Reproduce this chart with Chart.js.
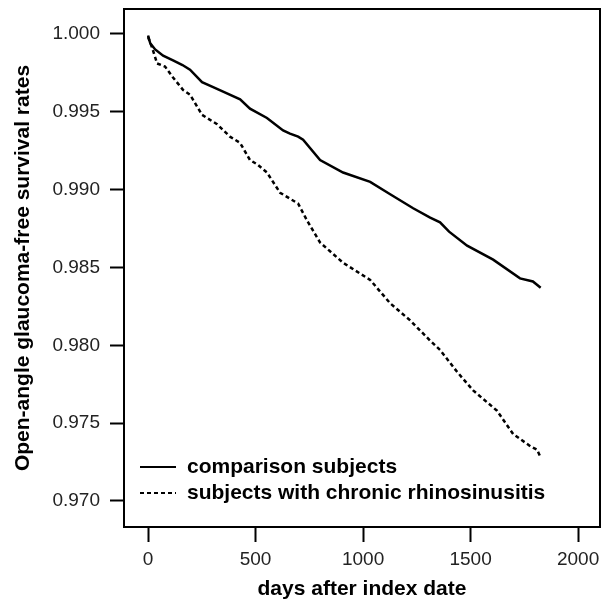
<!DOCTYPE html>
<html>
<head>
<meta charset="utf-8">
<script src="https://cdn.jsdelivr.net/npm/chart.js@4"></script>
<style>
  body { margin: 0; background: #fff; }
  canvas { display: block; }
</style>
</head>
<body>
<canvas id="myChart" width="603" height="604"></canvas>
<script>
// comparison subjects (solid)
var compDays = [0, 10, 33, 70, 116, 160, 195, 251, 300, 349, 428, 474, 553, 628, 660, 698, 721, 800, 907, 1033, 1126, 1233, 1312, 1358, 1400, 1484, 1605, 1730, 1790, 1826];
var compSurv = [0.9999, 0.9994, 0.9990, 0.9986, 0.9983, 0.9980, 0.9977, 0.9969, 0.9966, 0.9963, 0.9958, 0.9952, 0.9946, 0.9938, 0.9936, 0.9934, 0.9932, 0.9919, 0.9911, 0.9905, 0.9897, 0.9888, 0.9882, 0.9879, 0.9873, 0.9864, 0.9855, 0.9843, 0.9841, 0.9837];

// subjects with chronic rhinosinusitis (dashed)
var crsDays = [0, 19, 42, 79, 116, 163, 195, 251, 321, 381, 428, 474, 510, 553, 614, 698, 740, 800, 907, 1033, 1126, 1219, 1312, 1358, 1437, 1512, 1623, 1698, 1780, 1809, 1826];
var crsSurv = [0.9998, 0.9991, 0.9981, 0.9979, 0.9972, 0.9964, 0.9961, 0.9948, 0.9942, 0.9934, 0.9930, 0.9919, 0.9916, 0.9911, 0.9898, 0.9891, 0.9880, 0.9866, 0.9853, 0.9842, 0.9827, 0.9816, 0.9803, 0.9797, 0.9783, 0.9771, 0.9758, 0.9743, 0.9735, 0.9733, 0.9728];

var seriesNames = ['comparison subjects', 'subjects with chronic rhinosinusitis'];
var xTicks = [0, 500, 1000, 1500, 2000];
var yTicks = [0.970, 0.975, 0.980, 0.985, 0.990, 0.995, 1.000];

var FONT = "'Liberation Sans', Arial, sans-serif";

function toPoints(xs, ys) {
  return xs.map(function (x, i) { return { x: x, y: ys[i] }; });
}

// box around the plot + legend inside the plot area
var boxAndLegend = {
  id: 'boxAndLegend',
  afterDraw: function (chart) {
    var ctx = chart.ctx;
    var a = chart.chartArea;
    ctx.save();
    ctx.strokeStyle = '#000';
    ctx.lineWidth = 2;
    ctx.setLineDash([]);
    ctx.strokeRect(a.left, a.top, a.right - a.left, a.bottom - a.top);

    var rows = [a.bottom - 60, a.bottom - 34];
    ctx.font = 'bold 21px ' + FONT;
    ctx.textBaseline = 'middle';
    ctx.textAlign = 'left';
    chart.data.datasets.forEach(function (ds, i) {
      ctx.beginPath();
      ctx.lineWidth = 2;
      ctx.setLineDash(ds.borderDash || []);
      ctx.moveTo(a.left + 16, rows[i]);
      ctx.lineTo(a.left + 52, rows[i]);
      ctx.stroke();
      ctx.setLineDash([]);
      ctx.fillStyle = '#000';
      ctx.fillText(ds.label, a.left + 63, rows[i]);
    });
    ctx.restore();
  }
};

function createChart() {
  const ctx = document.getElementById('myChart');
  new Chart(ctx, {
    type: 'line',
    data: {
      datasets: [{
        label: seriesNames[0],
        data: toPoints(compDays, compSurv),
        borderColor: '#000',
        borderWidth: 2.5,
        pointRadius: 0,
        tension: 0,
        fill: false
      }, {
        label: seriesNames[1],
        data: toPoints(crsDays, crsSurv),
        borderColor: '#000',
        borderWidth: 2.5,
        borderDash: [4, 3],
        pointRadius: 0,
        tension: 0,
        fill: false
      }]
    },
    options: {
      responsive: false,
      animation: false,
      layout: { padding: { top: 9, right: 3, left: 0, bottom: 0 } },
      plugins: {
        legend: { display: false },
        tooltip: { enabled: false }
      },
      scales: {
        x: {
          type: 'linear',
          min: -112,
          max: 2102,
          afterFit: function (s) { s.height = 77; s.paddingLeft = 0; s.paddingRight = 0; },
          afterBuildTicks: function (s) { s.ticks = xTicks.map(function (v) { return { value: v }; }); },
          grid: { drawOnChartArea: false, drawTicks: true, tickLength: 15, tickColor: '#000', tickWidth: 2 },
          border: { display: false },
          ticks: {
            color: '#222',
            padding: 6,
            maxRotation: 0,
            font: { family: FONT, size: 19 },
            callback: function (v) { return String(v); }
          },
          title: {
            display: true,
            text: 'days after index date',
            color: '#000',
            padding: { top: 0, bottom: 2 },
            font: { family: FONT, size: 21, weight: 'bold' }
          }
        },
        y: {
          min: 0.96833,
          max: 1.0016,
          afterFit: function (s) { s.width = 124; s.paddingTop = 0; s.paddingBottom = 0; },
          afterBuildTicks: function (s) { s.ticks = yTicks.map(function (v) { return { value: v }; }); },
          grid: { drawOnChartArea: false, drawTicks: true, tickLength: 14, tickColor: '#000', tickWidth: 2 },
          border: { display: false },
          ticks: {
            color: '#222',
            padding: 10,
            font: { family: FONT, size: 19 },
            callback: function (v) { return v.toFixed(3); }
          },
          title: {
            display: true,
            text: 'Open-angle glaucoma-free survival rates',
            color: '#000',
            padding: { top: 11, bottom: 0 },
            font: { family: FONT, size: 21, weight: 'bold' }
          }
        }
      }
    },
    plugins: [boxAndLegend]
  });
}

window.onload = createChart;
</script>
</body>
</html>
